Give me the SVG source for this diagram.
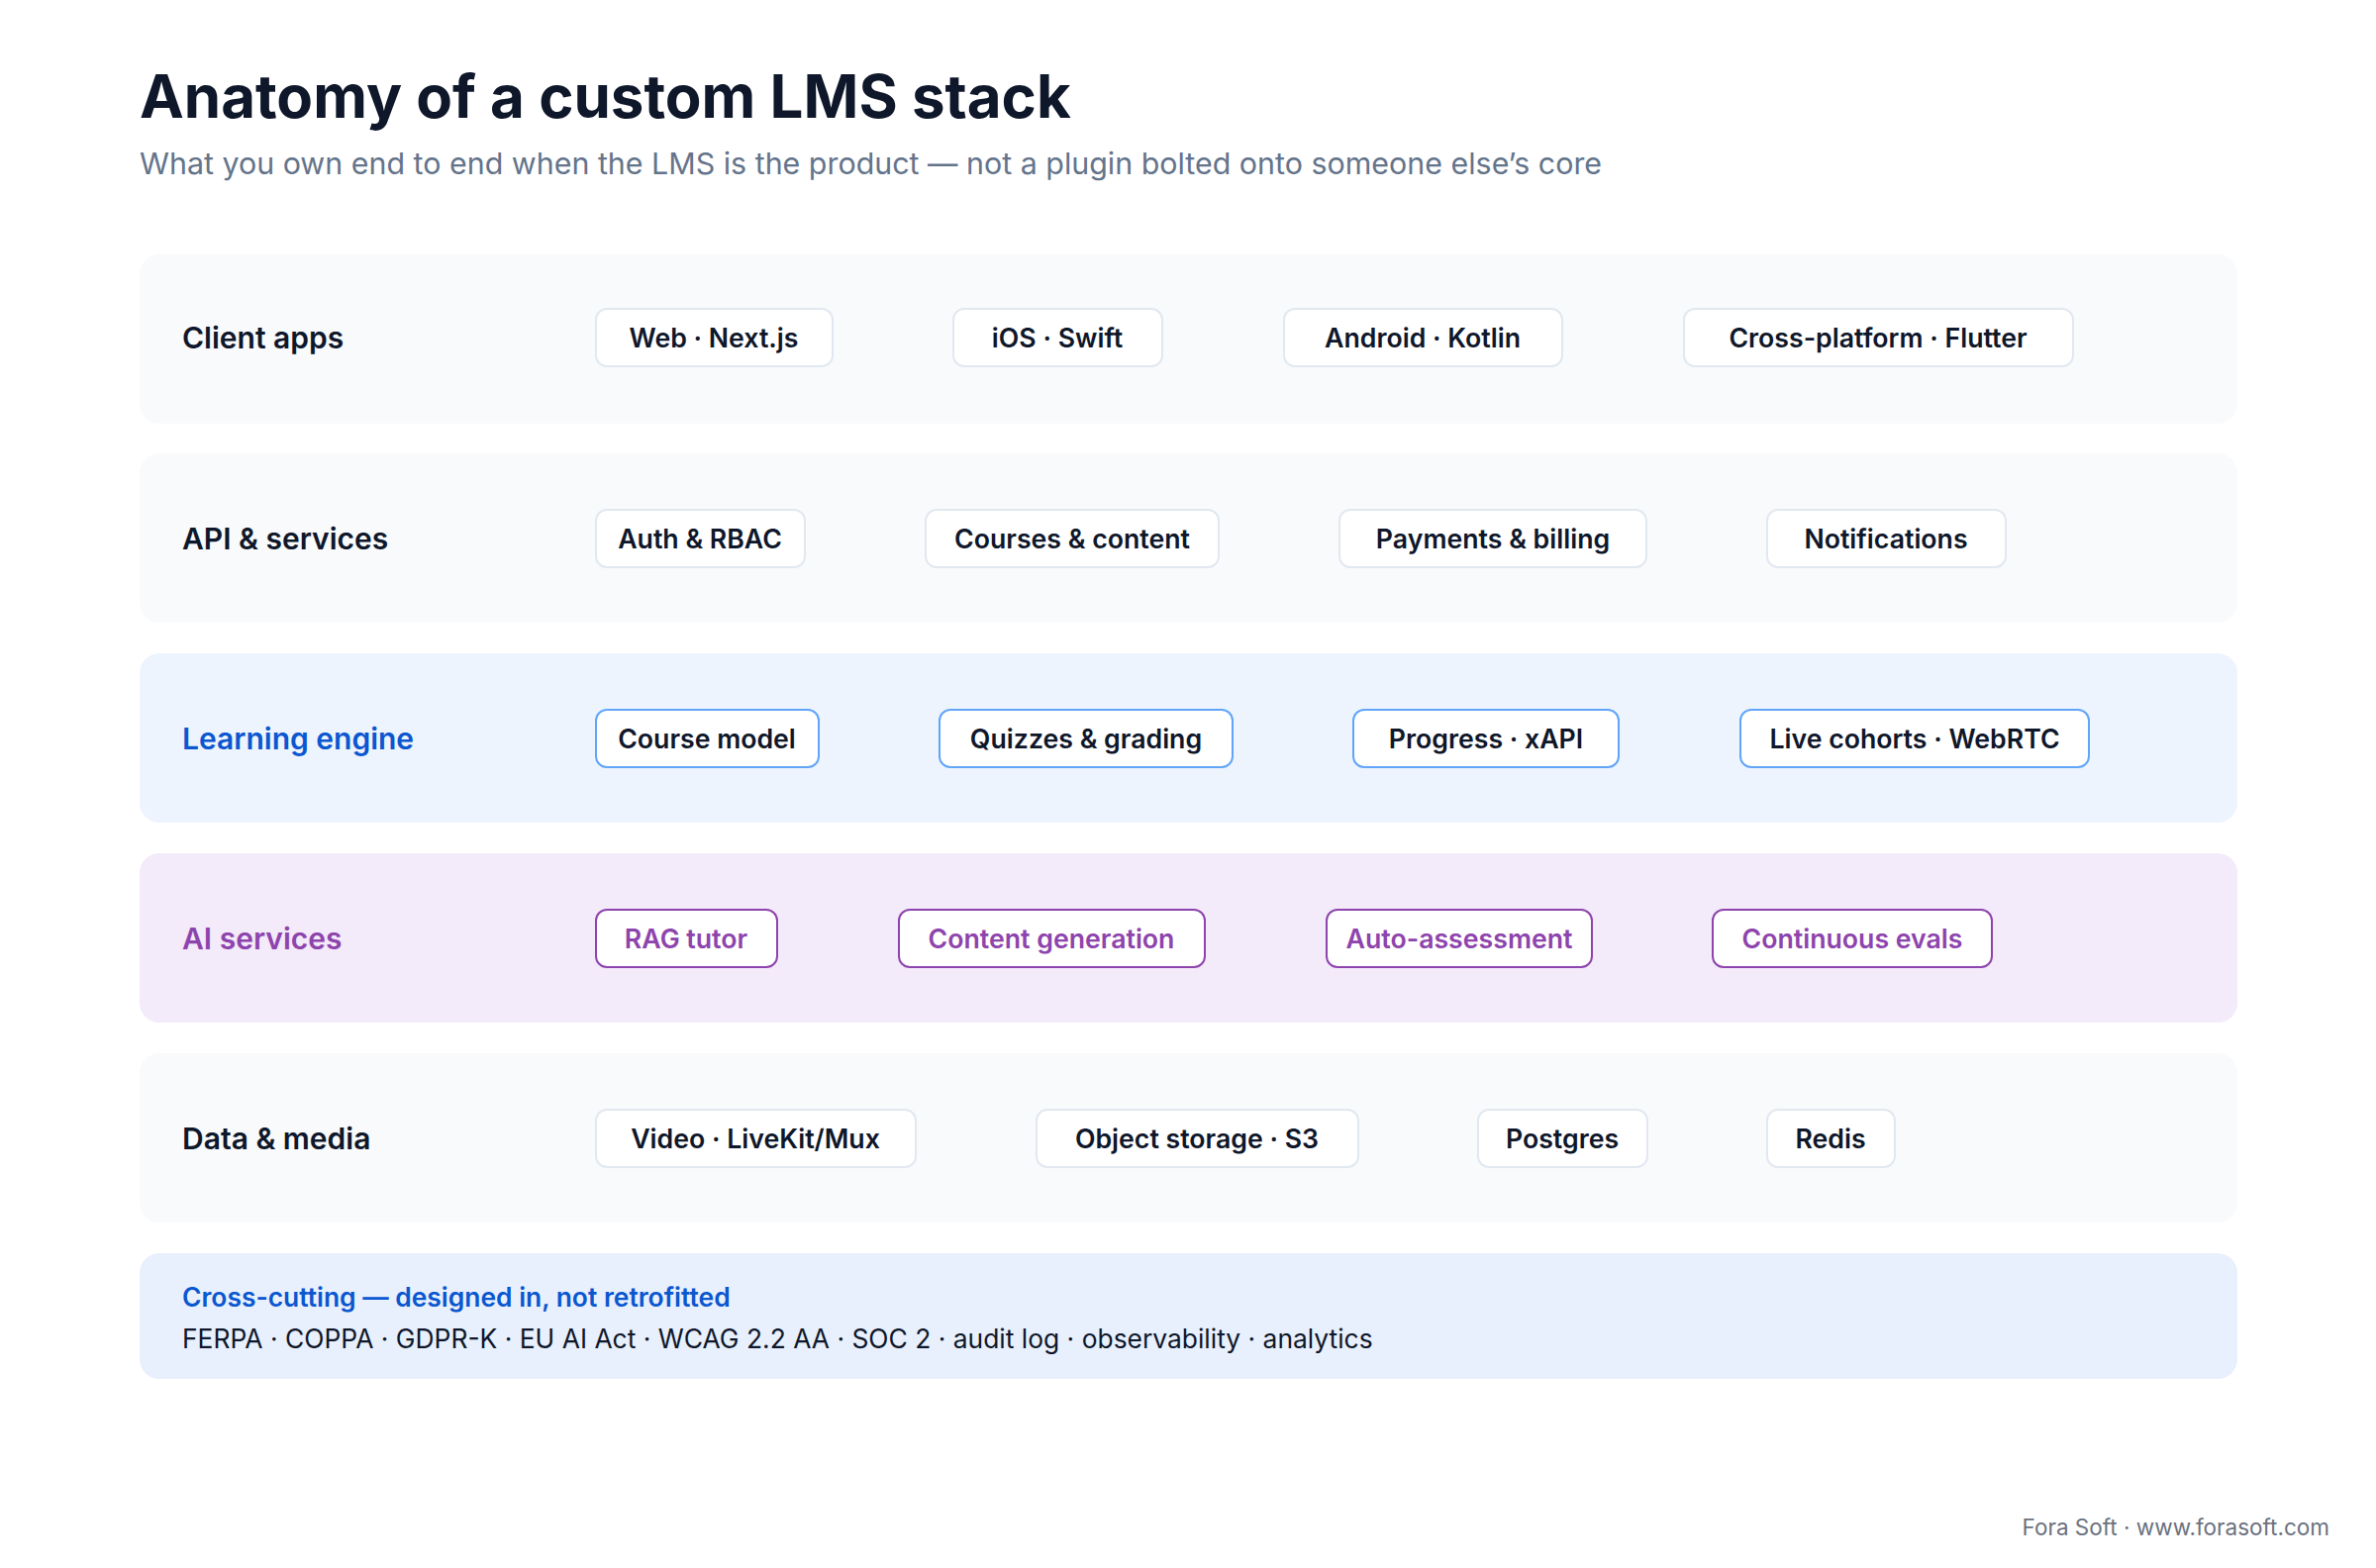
<svg xmlns="http://www.w3.org/2000/svg" width="2400" height="1584" viewBox="0 0 2400 1584">
<style>
text{font-family:Inter,"Noto Sans","Liberation Sans",sans-serif}
.band{fill:#f8fafc}
.lbl{font-size:30px;font-weight:600;fill:#0f172a;dominant-baseline:central}
.chip rect{fill:#fff;stroke:#e2e8f0;stroke-width:2}
.chip text{font-size:26.7px;font-weight:600;fill:#0f172a;text-anchor:middle;dominant-baseline:central}
.le .chip rect{stroke:#60a5fa}
.ai .chip rect{stroke:#8e44ad}
.ai .chip text{fill:#8e44ad}
</style>
<rect width="2400" height="1584" fill="#fff"/>
<text x="141" y="119" font-size="60" font-weight="700" fill="#0f172a">Anatomy of a custom LMS stack</text>
<text x="141" y="176" font-size="30.4" fill="#64748b">What you own end to end when the LMS is the product — not a plugin bolted onto someone else’s core</text>

<g id="client">
<rect class="band" x="141" y="257" width="2119" height="171" rx="20"/>
<text class="lbl" x="184" y="341">Client apps</text>
<g class="chip"><rect x="602" y="312" width="239" height="58" rx="11"/><text x="721" y="341">Web · Next.js</text></g>
<g class="chip"><rect x="963" y="312" width="211" height="58" rx="11"/><text x="1068" y="341">iOS · Swift</text></g>
<g class="chip"><rect x="1297" y="312" width="281" height="58" rx="11"/><text x="1437" y="341">Android · Kotlin</text></g>
<g class="chip"><rect x="1701" y="312" width="393" height="58" rx="11"/><text x="1897" y="341">Cross-platform · Flutter</text></g>
</g>

<g id="api">
<rect class="band" x="141" y="458" width="2119" height="171" rx="20"/>
<text class="lbl" x="184" y="544">API &amp; services</text>
<g class="chip"><rect x="602" y="515" width="211" height="58" rx="11"/><text x="707" y="544">Auth &amp; RBAC</text></g>
<g class="chip"><rect x="935" y="515" width="296" height="58" rx="11"/><text x="1083" y="544">Courses &amp; content</text></g>
<g class="chip"><rect x="1353" y="515" width="310" height="58" rx="11"/><text x="1508" y="544">Payments &amp; billing</text></g>
<g class="chip"><rect x="1785" y="515" width="241" height="58" rx="11"/><text x="1905" y="544">Notifications</text></g>
</g>

<g id="learning" class="le">
<rect x="141" y="660" width="2119" height="171" rx="20" fill="#eef4fe"/>
<text class="lbl" x="184" y="746" style="fill:#0b57d0">Learning engine</text>
<g class="chip"><rect x="602" y="717" width="225" height="58" rx="11"/><text x="714" y="746">Course model</text></g>
<g class="chip"><rect x="949" y="717" width="296" height="58" rx="11"/><text x="1097" y="746">Quizzes &amp; grading</text></g>
<g class="chip"><rect x="1367" y="717" width="268" height="58" rx="11"/><text x="1501" y="746">Progress · xAPI</text></g>
<g class="chip"><rect x="1758" y="717" width="352" height="58" rx="11"/><text x="1934" y="746">Live cohorts · WebRTC</text></g>
</g>

<g id="ai" class="ai">
<rect x="141" y="862" width="2119" height="171" rx="20" fill="#f3eafa"/>
<text class="lbl" x="184" y="948" style="fill:#8e44ad">AI services</text>
<g class="chip"><rect x="602" y="919" width="183" height="58" rx="11"/><text x="693" y="948">RAG tutor</text></g>
<g class="chip"><rect x="908" y="919" width="309" height="58" rx="11"/><text x="1062" y="948">Content generation</text></g>
<g class="chip"><rect x="1340" y="919" width="268" height="58" rx="11"/><text x="1474" y="948">Auto-assessment</text></g>
<g class="chip"><rect x="1730" y="919" width="282" height="58" rx="11"/><text x="1871" y="948">Continuous evals</text></g>
</g>

<g id="data">
<rect class="band" x="141" y="1064" width="2119" height="171" rx="20"/>
<text class="lbl" x="184" y="1150">Data &amp; media</text>
<g class="chip"><rect x="602" y="1121" width="323" height="58" rx="11"/><text x="763" y="1150">Video · LiveKit/Mux</text></g>
<g class="chip"><rect x="1047" y="1121" width="325" height="58" rx="11"/><text x="1209" y="1150">Object storage · S3</text></g>
<g class="chip"><rect x="1493" y="1121" width="171" height="58" rx="11"/><text x="1578" y="1150">Postgres</text></g>
<g class="chip"><rect x="1785" y="1121" width="129" height="58" rx="11"/><text x="1849" y="1150">Redis</text></g>
</g>

<g id="cross">
<rect x="141" y="1266" width="2119" height="127" rx="20" fill="#e8f0fd"/>
<text x="184" y="1320" font-size="26.4" font-weight="600" fill="#0b57d0">Cross-cutting — designed in, not retrofitted</text>
<text x="184" y="1362" font-size="26.4" fill="#0f172a">FERPA · COPPA · GDPR-K · EU AI Act · WCAG 2.2 AA · SOC 2 · audit log · observability · analytics</text>
</g>
<g id="connectors"/>
<text x="2353" y="1551" font-size="22.5" fill="#6b7280" text-anchor="end">Fora Soft · www.forasoft.com</text>
</svg>
